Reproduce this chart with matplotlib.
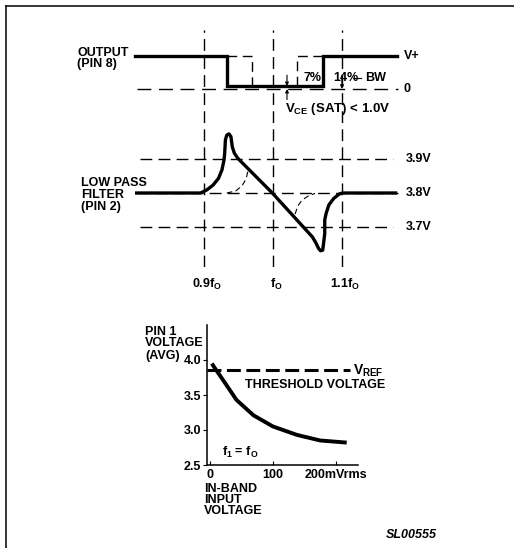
import matplotlib
matplotlib.use("Agg")
import matplotlib.pyplot as plt
from matplotlib.lines import Line2D
from matplotlib.transforms import blended_transform_factory as blend

plt.rcParams['font.family'] = ['Liberation Sans', 'DejaVu Sans']
plt.rcParams['font.weight'] = 'bold'
plt.rcParams['mathtext.fontset'] = 'custom'
plt.rcParams['mathtext.rm'] = 'Liberation Sans:bold'
plt.rcParams['mathtext.it'] = 'Liberation Sans:italic:bold'
plt.rcParams['mathtext.bf'] = 'Liberation Sans:bold'
plt.rcParams['mathtext.default'] = 'rm'
plt.rcParams['lines.scale_dashes'] = False

# ---------------- data ----------------
freq_marks = [0.9, 1.0, 1.1]
freq_labels = [r'0.9f$_{\rm O}$', r'f$_{\rm O}$', r'1.1f$_{\rm O}$']

out_high = 1.0
out_zero = 0.0
out_sat = 0.09
out_level_labels = ['V+', '0']
out_wide_f = [0.80, 0.933, 0.933, 1.072, 1.072, 1.18]
out_wide_v = [1.0, 1.0, 0.09, 0.09, 1.0, 1.0]
out_narrow_left_f = [0.933, 0.970, 0.970]
out_narrow_left_v = [1.0, 1.0, 0.09]
out_narrow_right_f = [1.035, 1.035, 1.072]
out_narrow_right_v = [0.09, 1.0, 1.0]

lpf_levels = [3.9, 3.8, 3.7]
lpf_level_labels = ['3.9V', '3.8V', '3.7V']
lpf_f = [0.80, 0.895, 0.904, 0.913, 0.921, 0.926, 0.929, 0.930, 0.931, 0.933,
         0.936, 0.939, 0.941, 0.944, 0.949, 0.999, 1.057, 1.062, 1.066, 1.069,
         1.072, 1.073, 1.075, 1.075, 1.077, 1.081, 1.088, 1.096, 1.101, 1.18]
lpf_v = [3.80, 3.80, 3.809, 3.823, 3.843, 3.868, 3.897, 3.917, 3.956, 3.970,
         3.974, 3.966, 3.936, 3.917, 3.902, 3.800, 3.671, 3.654, 3.637, 3.630,
         3.632, 3.647, 3.681, 3.721, 3.740, 3.765, 3.784, 3.797, 3.800, 3.80]
arc1_f = [0.933, 0.946, 0.955, 0.961, 0.964]
arc1_v = [3.800, 3.806, 3.821, 3.841, 3.868]
arc2_f = [1.032, 1.036, 1.042, 1.051, 1.061]
arc2_v = [3.738, 3.762, 3.779, 3.791, 3.799]

input_mv = [3, 5, 21, 42, 69, 100, 138, 175, 217]
pin1_v = [3.95, 3.92, 3.71, 3.43, 3.21, 3.05, 2.93, 2.85, 2.82]
vref = 3.85
vref_span = [-4, 222]
y_ticks = [2.5, 3.0, 3.5, 4.0]
y_ticklabels = ['2.5', '3.0', '3.5', '4.0']
x_ticks = [0, 100, 200]
x_ticklabels = ['0', '100', '200mVrms']

# ---------------- layout helpers ----------------
W, H = 514, 548
fig = plt.figure(figsize=(W / 100, H / 100), dpi=100)
fig.patch.set_facecolor('white')


def add_ax(x0, x1, y0, y1):
    ax = fig.add_axes([x0 / W, 1 - y1 / H, (x1 - x0) / W, (y1 - y0) / H])
    ax.set_facecolor('none')
    return ax


def fx(px):
    return px / W


def fy(py):
    return 1 - py / H


FS = 9.0
THICK = 2.4
GRID = dict(color='black', lw=1.0, dashes=(8.5, 4.5))

# frame
fig.add_artist(Line2D([fx(6), fx(6)], [fy(6), fy(548)], color='black', lw=1.1))
fig.add_artist(Line2D([fx(6), fx(514)], [fy(6), fy(6)], color='black', lw=1.1))

# frequency mapping: 0.9 at px 204, 0.1 per 69 px
def f_of(px):
    return 0.9 + (px - 204) / 690.0

X0, X1 = 100, 450
flim = (f_of(X0), f_of(X1))

# grid axes for vertical lines
ax_grid = add_ax(X0, X1, 30, 267)
ax_grid.set_xlim(flim)
ax_grid.set_ylim(0, 1)
ax_grid.axis('off')
for f in freq_marks:
    ax_grid.plot([f, f], [0, 1], **GRID)

# output axes
ax_out = add_ax(X0, X1, 30, 100)
ax_out.set_xlim(flim)
ax_out.set_ylim(-11 / 33, 1 + 26 / 33)
ax_out.axis('off')
ax_out.plot([f_of(137), f_of(398)], [out_zero, out_zero], color='black', lw=1.0,
            dashes=(10, 5.5))
ax_out.plot(out_narrow_left_f, out_narrow_left_v, color='black', lw=1.0, dashes=(7, 4))
ax_out.plot(out_narrow_right_f, out_narrow_right_v, color='black', lw=1.0, dashes=(7, 4))
ax_out.plot(out_wide_f, out_wide_v, color='black', lw=THICK, solid_joinstyle='miter')
# VCE(sat) arrows
fa = f_of(287)
ax_out.annotate('', xy=(fa, out_sat), xytext=(fa, 0.42),
                arrowprops=dict(arrowstyle='-|>', lw=0.8, color='black',
                                mutation_scale=5, shrinkA=0, shrinkB=0))
ax_out.annotate('', xy=(fa, out_zero), xytext=(fa, -0.32),
                arrowprops=dict(arrowstyle='-|>', lw=0.8, color='black',
                                mutation_scale=5, shrinkA=0, shrinkB=0))
# BW markers
ax_out.annotate('', xy=(1.1, out_zero), xytext=(1.1, 0.42),
                arrowprops=dict(arrowstyle='-|>', lw=0.9, color='black',
                                mutation_scale=5, shrinkA=0, shrinkB=0))
ax_out.plot([f_of(353), f_of(361)], [0.33, 0.33], color='black', lw=0.8)

tr_out = blend(fig.transFigure, ax_out.transData)
ax_out.text(fx(404), out_high, out_level_labels[0], transform=tr_out, fontsize=FS,
            ha='left', va='center')
ax_out.text(fx(404), out_zero, out_level_labels[1], transform=tr_out, fontsize=FS,
            ha='left', va='center')

# LPF axes
ax_lpf = add_ax(X0, X1, 100, 267)
ax_lpf.set_xlim(flim)
ax_lpf.set_ylim(3.8 - 74 / 340, 3.8 + 93 / 340)
ax_lpf.axis('off')
for lv in lpf_levels:
    if abs(lv - 3.8) < 1e-6:
        ax_lpf.plot([f_of(137), f_of(398)], [lv, lv], **GRID)
    else:
        ax_lpf.plot([f_of(140), f_of(393)], [lv, lv], **GRID)
ax_lpf.plot(arc1_f, arc1_v, color='black', lw=0.8, dashes=(4, 2.5))
ax_lpf.plot(arc2_f, arc2_v, color='black', lw=0.8, dashes=(4, 2.5))
ax_lpf.plot(lpf_f, lpf_v, color='black', lw=THICK, solid_joinstyle='round',
            solid_capstyle='butt')
tr_lpf = blend(fig.transFigure, ax_lpf.transData)
for lv, lab in zip(lpf_levels, lpf_level_labels):
    ax_lpf.text(fx(406), lv, lab, transform=tr_lpf, fontsize=FS, ha='left', va='center')
tr_f = blend(ax_lpf.transData, fig.transFigure)
for f, lab in zip(freq_marks, freq_labels):
    ax_lpf.text(f + 0.005, fy(284), lab, transform=tr_f, fontsize=FS,
                ha='center', va='center')

# left labels
for txt, y in [('OUTPUT', 53), ('(PIN 8)', 64)]:
    fig.text(fx(77), fy(y), txt, fontsize=FS, ha='left', va='center')
for txt, y in [('LOW PASS', 183), ('FILTER', 195), ('(PIN 2)', 207)]:
    fig.text(fx(81), fy(y), txt, fontsize=FS, ha='left', va='center')

fig.text(fx(303), fy(78), '7%', fontsize=FS, ha='left', va='center')
fig.text(fx(333), fy(78), '14%', fontsize=FS, ha='left', va='center')
fig.text(fx(365), fy(78), 'BW', fontsize=FS, ha='left', va='center')
fig.text(fx(285), fy(109), r'V$_{\rm CE}$ (SAT) < 1.0V', fontsize=FS + 0.5,
         ha='left', va='center')

# ---------------- bottom panel ----------------
def mv_of(px):
    return (px - 210) / 0.63

ax_b = add_ax(207, 358, 325, 465)
ax_b.set_xlim(mv_of(207), mv_of(358))
ax_b.set_ylim(2.5, 4.5)
for s in ['top', 'right']:
    ax_b.spines[s].set_visible(False)
for s in ['left', 'bottom']:
    ax_b.spines[s].set_linewidth(1.1)
ax_b.set_yticks(y_ticks)
ax_b.set_yticklabels(y_ticklabels)
ax_b.set_xticks(x_ticks)
ax_b.set_xticklabels(x_ticklabels)
ax_b.tick_params(axis='y', direction='out', length=3, width=0.8, pad=1, labelsize=FS)
ax_b.tick_params(axis='x', direction='in', length=3, width=0.8, pad=3, labelsize=FS)
ax_b.plot(vref_span, [vref, vref], color='black', lw=2.2, dashes=(10, 4))
ax_b.plot(input_mv, pin1_v, color='black', lw=2.8, solid_capstyle='butt')
tr_b = blend(fig.transFigure, ax_b.transData)
ax_b.text(fx(353), vref, r'V$_{\rm REF}$', transform=tr_b, fontsize=FS + 1,
          ha='left', va='center')
fig.text(fx(245), fy(385), 'THRESHOLD VOLTAGE', fontsize=FS, ha='left', va='center')
fig.text(fx(222), fy(452), r'f$_1$ = f$_{\rm O}$', fontsize=FS, ha='left', va='center')

for txt, y in [('PIN 1', 332), ('VOLTAGE', 343), ('(AVG)', 356)]:
    fig.text(fx(145), fy(y), txt, fontsize=FS, ha='left', va='center')
for txt, y in [('IN-BAND', 489), ('INPUT', 500), ('VOLTAGE', 511)]:
    fig.text(fx(204), fy(y), txt, fontsize=FS, ha='left', va='center')

fig.text(fx(386), fy(535), 'SL00555', fontsize=FS, ha='left', va='center',
         style='italic')

fig.savefig('out.png', dpi=100)
